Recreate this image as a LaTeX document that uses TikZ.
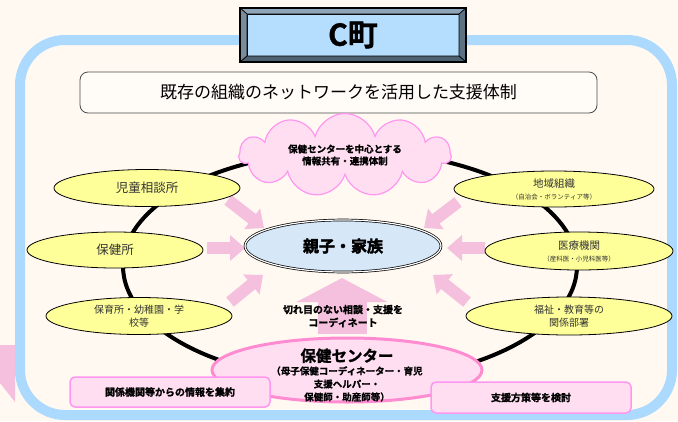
\documentclass[tikz,border=0pt]{standalone}
\usepackage{fontspec}
\setmainfont{Noto Sans CJK JP}[BoldFont={Noto Sans CJK JP Bold}]
\newfontfamily\heavyfont{Noto Sans CJK JP Bold}[FakeBold=1.2]
\newfontfamily\blackfont{Noto Sans CJK JP Bold}[FakeBold=2.5]
\usepackage{tikz}
\definecolor{cream}{RGB}{255,249,242}
\definecolor{frameblue}{RGB}{172,218,255}
\definecolor{titleblue}{RGB}{181,221,254}
\definecolor{bevellight}{RGB}{143,165,183}
\definecolor{beveldark}{RGB}{92,114,132}
\definecolor{orgyellow}{RGB}{255,255,153}
\definecolor{famblue}{RGB}{214,232,248}
\definecolor{pinkfill}{RGB}{255,222,242}
\definecolor{pinkline}{RGB}{255,140,208}
\definecolor{magline}{RGB}{255,150,240}
\definecolor{arrowpink}{RGB}{245,192,222}
\definecolor{darktext}{RGB}{51,51,51}
\usetikzlibrary{shapes.geometric,shapes.symbols,arrows.meta}

\begin{document}
\begin{tikzpicture}[x=1pt, y=-1pt,
    org/.style={ellipse, draw=black, line width=0.8pt, fill=orgyellow, inner sep=0pt, align=center, text=darktext, font=\fontsize{12.5}{15}\selectfont},
    pinkbox/.style={rectangle, rounded corners=5pt, draw=magline, line width=1.5pt, fill=pinkfill, minimum width=200pt, inner sep=0pt, font=\fontsize{10}{12}\selectfont\heavyfont},
    pinkarrow/.style={arrowpink, line width=12pt, -{Triangle[width=25pt, length=15pt]}}]
    % Background and outer frame
    \fill[cream] (0,0) rectangle (678,421);
    \useasboundingbox (0,0) rectangle (678,421);
    \fill[arrowpink] (0,345) -- (15,345) -- (15,402) -- (0,383) -- cycle;
    \draw[frameblue, line width=10pt, rounded corners=45pt] (20,40) rectangle (672,415);
    
    % Title plate with bevel
    \node[draw=black, line width=0.8pt, fill=titleblue, outer sep=0pt, minimum width=212pt, minimum height=42pt, inner sep=0pt, font=\fontsize{30}{32}\selectfont\heavyfont] (town) at (353,35) {C町};
    \filldraw[fill=bevellight, line width=0.6pt] (240,8) -- (466,8) -- (town.north east) -- (town.north west) -- cycle;
    \filldraw[fill=bevellight!85!black, line width=0.6pt] (240,8) -- (town.north west) -- (town.south west) -- (240,62) -- cycle;
    \filldraw[fill=beveldark, line width=0.6pt] (466,8) -- (466,62) -- (town.south east) -- (town.north east) -- cycle;
    \filldraw[fill=beveldark!85!black, line width=0.6pt] (240,62) -- (466,62) -- (town.south east) -- (town.south west) -- cycle;
    \draw[line width=1.2pt] (240,8) rectangle (466,62);
    
    \node[draw=gray!60!black, line width=0.8pt, fill=white!50!cream, rounded corners=8pt, minimum width=517pt, minimum height=41pt, font=\fontsize{17}{19}\selectfont] (motto) at (338.5,92.5) {既存の組織のネットワークを活用した支援体制};
    
    % Network ring
    \draw[line width=4pt] (350,266) ellipse [x radius=227, y radius=115];
    
    % Arrows towards the family
    \coordinate (s1) at (228,200); \coordinate (e1) at (264,228);
    \coordinate (s2) at (207,248); \coordinate (e2) at (245,248);
    \coordinate (s3) at (230,302); \coordinate (e3) at (263,275);
    \coordinate (s4) at (458,202); \coordinate (e4) at (424,228);
    \coordinate (s5) at (485,248); \coordinate (e5) at (447,248);
    \coordinate (s6) at (467,302); \coordinate (e6) at (433,275);
    \foreach \i in {1,...,6} {
        \draw[pinkarrow] (s\i) -- (e\i);
    }
    \coordinate (hcup) at (342,334);
    \coordinate (famdown) at (342,278);
    \draw[arrowpink, line width=49pt, -{Triangle[width=90pt, length=24pt]}] (hcup) -- (famdown);
    
    % Cloud and family
    \node[cloud, cloud puffs=11, aspect=3.2, draw=magline, line width=1.2pt, fill=pinkfill, minimum width=212pt, minimum height=62pt, inner sep=0pt, align=center, font=\fontsize{9.5}{12}\selectfont\heavyfont] (share) at (345,155) {保健センターを中心とする\\情報共有・連携体制};
    \node[ellipse, draw=black, double=white, double distance=1.2pt, line width=0.7pt, fill=famblue, minimum width=196pt, minimum height=52pt, inner sep=0pt, font=\fontsize{16}{18}\selectfont\blackfont] (fam) at (343,246) {親子・家族};
    
    % Organisations on the ring
    \node[org, minimum width=186pt, minimum height=37pt] (jido) at (147,188) {児童相談所};
    \node[org, minimum width=176pt, minimum height=36pt] (hokenjo) at (115,250) {保健所};
    \node[org, minimum width=186pt, minimum height=37pt, font=\fontsize{10}{13}\selectfont] (hoiku) at (139,316) {保育所・幼稚園・学\\校等};
    \node[org, minimum width=200pt, minimum height=36pt, font=\fontsize{10.5}{12}\selectfont] (chiiki) at (554,189) {地域組織\\{\fontsize{6.5}{8}\selectfont （自治会・ボランティア等）}};
    \node[org, minimum width=188pt, minimum height=38pt, font=\fontsize{10.5}{12}\selectfont] (iryo) at (579,251) {医療機関\\{\fontsize{6.5}{8}\selectfont （産科医・小児科医等）}};
    \node[org, minimum width=206pt, minimum height=38pt, font=\fontsize{10}{13}\selectfont] (fukushi) at (569,316) {福祉・教育等の\\関係部署};
    
    % Health centre
    \node[align=center, font=\fontsize{10}{13}\selectfont\heavyfont] (coord) at (343,316) {切れ目のない相談・支援を\\コーディネート};
    \node[ellipse, draw=pinkline, line width=3pt, fill=pinkfill, minimum width=270pt, minimum height=64pt, inner sep=0pt] (hc) at (347,370) {};
    \node[align=center, inner sep=0pt, font=\fontsize{9.5}{13}\selectfont\heavyfont] (hclabel) at (347,375) {{\fontsize{15.5}{17}\selectfont 保健センター}\\（母子保健コーディネーター・育児\\支援ヘルパー・\\保健師・助産師等）};
    
    \node[pinkbox, minimum height=30pt] (collect) at (170,392) {関係機関等からの情報を集約};
    \node[pinkbox, minimum height=31pt] (plan) at (531,397.5) {支援方策等を検討};
\end{tikzpicture}
\end{document}
